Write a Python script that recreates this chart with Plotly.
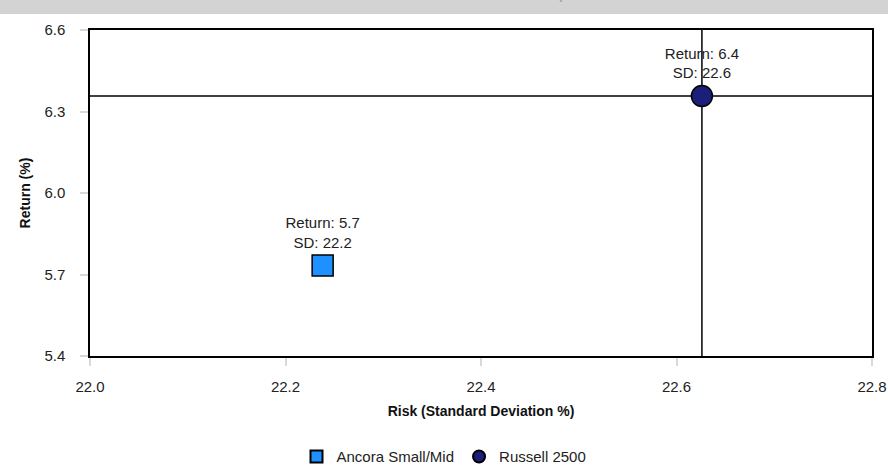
import plotly.graph_objects as go

# data
names = ["Ancora Small/Mid", "Russell 2500"]
risk = [22.238, 22.626]
ret = [5.733, 6.357]
symbols = ["square", "circle"]
colors = ["#1e90ff", "#1b1f7a"]

x_ticks = [22.0, 22.2, 22.4, 22.6, 22.8]
y_ticks = [5.4, 5.7, 6.0, 6.3, 6.6]

fig = go.Figure()
for i, nm in enumerate(names):
    fig.add_trace(go.Scatter(
        x=[risk[i]], y=[ret[i]], name=nm,
        mode="markers+text",
        marker=dict(symbol=symbols[i], size=21, color=colors[i],
                    line=dict(color="black", width=1.5)),
        text=["Return: %.1f<br>SD: %.1f" % (ret[i], risk[i])],
        textposition="top center",
        textfont=dict(family="Arial", size=15, color="#222"),
        cliponaxis=False,
    ))

# benchmark crosshair
bx, by = risk[1], ret[1]
fig.add_shape(type="line", xref="x", yref="paper", x0=bx, x1=bx, y0=0, y1=1,
              line=dict(color="black", width=1.5), layer="below")
fig.add_shape(type="line", xref="paper", yref="y", x0=0, x1=1, y0=by, y1=by,
              line=dict(color="black", width=1.5), layer="below")

# grey title band (title mostly clipped at top)
fig.add_shape(type="rect", xref="paper", yref="paper", x0=-0.2, x1=1.1,
              y0=1.049, y1=1.3, fillcolor="#d3d3d3", line=dict(width=0), layer="below")
fig.add_annotation(text="<b>Risk and Return - Since Inception</b>", xref="paper", yref="paper",
                   x=0.5, y=1.11, xanchor="center", yanchor="middle", showarrow=False,
                   font=dict(family="Arial", size=14, color="#a8a8a8"))

axis_common = dict(showline=True, linecolor="black", linewidth=1.5, mirror=True,
                   showgrid=False, zeroline=False, ticks="outside", ticklen=8,
                   tickcolor="#d9d9d9", tickwidth=2, automargin=False,
                   tickfont=dict(family="Arial", size=15, color="#222"))

fig.update_layout(
    width=888, height=469,
    margin=dict(l=90, r=16, t=30, b=113),
    paper_bgcolor="white", plot_bgcolor="white",
    font=dict(family="Arial", size=15, color="#222"),
    xaxis=dict(range=[22.0, 22.8], tickvals=x_ticks, tickformat=".1f",
               title=dict(text="<b>Risk (Standard Deviation %)</b>", standoff=12,
                          font=dict(family="Arial", size=14, color="#111")),
               ticklabelstandoff=8, **axis_common),
    yaxis=dict(range=[5.4, 6.6], tickvals=y_ticks, tickformat=".1f",
               title=dict(text="<b>Return (%)</b>", standoff=10,
                          font=dict(family="Arial", size=14, color="#111")),
               ticklabelstandoff=12, **axis_common),
    showlegend=True,
    legend=dict(orientation="h", x=0.5, xanchor="center", xref="container",
                y=0.026, yanchor="middle", yref="container",
                font=dict(family="Arial", size=15, color="#222"), itemsizing="constant"),
)

fig.write_html("out.html", config={"displayModeBar": False},
               post_script="document.body.style.margin='0';")
